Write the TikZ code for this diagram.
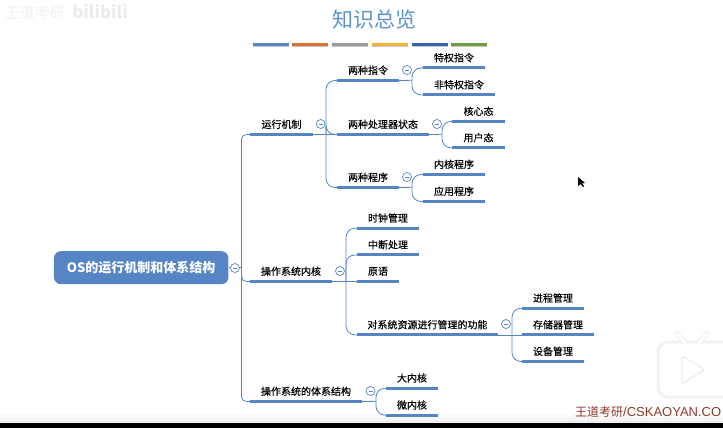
\documentclass[tikz,border=0pt]{standalone}
\usepackage{fontspec}
\setmainfont{Noto Sans CJK SC}
\newfontfamily\labelfont[FakeBold=0.35]{Noto Sans CJK SC}
\newfontfamily\latinfont{Liberation Sans}
\usepackage{color}
\definecolor{mapblue}{HTML}{5585C5}
\definecolor{titleblue}{HTML}{5B94CC}
\definecolor{barorange}{HTML}{DD7333}
\definecolor{bargray}{HTML}{9C9C9C}
\definecolor{baryellow}{HTML}{F2B233}
\definecolor{bardark}{HTML}{3563AE}
\definecolor{bargreen}{HTML}{6E9E3F}
\definecolor{markred}{HTML}{8E3A2A}
\tikzset{
  topic/.style={minimum height=20pt, yshift=1pt, inner sep=0pt, font=\labelfont\fontsize{10}{12}\selectfont,
    append after command={(\tikzlastnode.south west) edge[underline] (\tikzlastnode.south east)}},
  underline/.style={draw=mapblue, line width=3pt},
  conn/.style={draw=mapblue, line width=0.8pt, rounded corners=9pt},
  fold/.style={circle, draw=mapblue, line width=0.7pt, fill=white, minimum size=9pt, inner sep=0pt,
    path picture={\draw[mapblue, line width=0.7pt] ([xshift=-2pt]path picture bounding box.center) -- ([xshift=2pt]path picture bounding box.center);}},
  bar/.style={line width=3.2pt, line cap=butt},
}

\begin{document}
\begin{tikzpicture}[x=1pt,y=-1pt]
  \useasboundingbox (0,0) rectangle (723,428);

  \shade[top color=white, bottom color=black!7] (0,412) rectangle (723,423);
  \fill[black] (0,423) rectangle (723,428);

  % header
  \node[text=titleblue, font=\fontsize{21}{24}\selectfont] (title) at (374,20) {知识总览};
  \foreach \xa/\col in {253/mapblue, 292/barorange, 332/bargray, 372/baryellow, 411.5/bardark, 451/bargreen}{
    \draw[black!22, line width=1pt] (\xa,47) -- ++(36,0);
    \draw[bar, \col] (\xa,44.6) -- ++(36,0);
  }
  \node[text=black!6, font=\fontsize{15}{16}\selectfont] (mark) at (35,13) {王道考研};
  \node[text=black!8, font=\fontsize{17}{18}\selectfont\bfseries] (site) at (100,12) {bilibili};

  % root
  \node[fill=mapblue, rounded corners=7pt, text=white, minimum width=174.5pt, minimum height=33pt,
    inner sep=0pt, font=\fontsize{13}{14}\selectfont\bfseries] (root) at (141.2,267.7) {OS的运行机制和体系结构};

  % first level
  \node[topic, minimum width=63pt]  (yunxing) at (281.5,125.3) {运行机制};
  \node[topic, minimum width=82pt]  (neihe)   at (291,272.3)   {操作系统内核};
  \node[topic, minimum width=112pt] (jiegou)  at (306,392.3)   {操作系统的体系结构};

  % second level
  \node[topic, minimum width=62pt]  (zhiling) at (368,71.3)    {两种指令};
  \node[topic, minimum width=92pt]  (zhuangtai) at (383,125.3) {两种处理器状态};
  \node[topic, minimum width=62pt]  (chengxu) at (368,178.3)   {两种程序};
  \node[topic, minimum width=62pt]  (shizhong) at (388,219)    {时钟管理};
  \node[topic, minimum width=62pt]  (zhongduan) at (388,245.7) {中断处理};
  \node[topic, minimum width=42pt]  (yuanyu)  at (378,272.3)   {原语};
  \node[topic, minimum width=141pt] (ziyuan)  at (427.5,325.7) {对系统资源进行管理的功能};
  \node[topic, minimum width=52pt]  (danei)   at (412,379)     {大内核};
  \node[topic, minimum width=52pt]  (weinei)  at (412,406)     {微内核};

  % third level
  \node[topic, minimum width=62pt]  (tequan)  at (454,58.7)    {特权指令};
  \node[topic, minimum width=72pt]  (feite)   at (459,85.7)    {非特权指令};
  \node[topic, minimum width=53pt]  (hexin)   at (478.5,112.3) {核心态};
  \node[topic, minimum width=53pt]  (yonghu)  at (478.5,138.7) {用户态};
  \node[topic, minimum width=62pt]  (neiprog) at (454,165.3)   {内核程序};
  \node[topic, minimum width=62pt]  (yingyong) at (454,192.3)  {应用程序};
  \node[topic, minimum width=62pt]  (jincheng) at (553,299)    {进程管理};
  \node[topic, minimum width=72pt]  (cunchu)  at (558,325.7)   {存储器管理};
  \node[topic, minimum width=62pt]  (shebei)  at (553,352.3)   {设备管理};

  % junctions on the trunks
  \coordinate (jroot) at (241.5,267.7);
  \coordinate (jyun)  at (326,134.3);
  \coordinate (jzhi)  at (412,80.3);
  \coordinate (jzhu)  at (442,134.3);
  \coordinate (jchg)  at (412,187.3);
  \coordinate (jnei)  at (346,281.3);
  \coordinate (jzy)   at (512,334.7);
  \coordinate (jjg)   at (376,401.3);

  % connectors
  \draw[conn] (root.east) -- (jroot);
  \foreach \kid in {yunxing, neihe, jiegou}
    \draw[conn, rounded corners=5pt] (jroot) |- (\kid.south west);
  \foreach \kid in {zhiling, zhuangtai, chengxu}
    \draw[conn] (jyun) |- (\kid.south west);
  \draw[conn] (yunxing.south east) -- (zhuangtai.south west);
  \foreach \kid in {tequan, feite}
    \draw[conn] (jzhi) |- (\kid.south west);
  \draw[conn] (zhiling.south east) -- (jzhi);
  \foreach \kid in {hexin, yonghu}
    \draw[conn] (jzhu) |- (\kid.south west);
  \draw[conn] (zhuangtai.south east) -- (jzhu);
  \foreach \kid in {neiprog, yingyong}
    \draw[conn] (jchg) |- (\kid.south west);
  \draw[conn] (chengxu.south east) -- (jchg);
  \foreach \kid in {shizhong, zhongduan, ziyuan}
    \draw[conn] (jnei) |- (\kid.south west);
  \draw[conn] (neihe.south east) -- (yuanyu.south west);
  \foreach \kid in {jincheng, shebei}
    \draw[conn] (jzy) |- (\kid.south west);
  \draw[conn] (ziyuan.south east) -- (cunchu.south west);
  \foreach \kid in {danei, weinei}
    \draw[conn] (jjg) |- (\kid.south west);
  \draw[conn] (jiegou.south east) -- (jjg);

  % fold marks
  \foreach \nm/\xa/\ya in {froot/235/268, fyun/320.7/124, fzhi/407/70, fzhu/437/124, fchg/407/177,
      fnei/340/271, fzy/506/324, fjg/370.5/391}
    \node[fold] (\nm) at (\xa,\ya) {};

  % player overlays
  \draw[black!5, line width=5pt, line cap=round] (677,334) -- (685,343) (707,334) -- (699,343);
  \draw[black!5, line width=3pt, fill=white, rounded corners=10pt] (658,342) rectangle (735,397);
  \draw[white, line width=2.5pt, line cap=round] (677,334) -- (685,343) (707,334) -- (699,343);
  \draw[black!8, line width=1pt, fill=white, rounded corners=3pt] (682,356) -- (705,369.5) -- (682,384) -- cycle;
  \fill[black] (578,177) -- (578,186) -- (580.5,184) -- (583,187) -- (584,186) -- (582,183.5) -- (585,183) -- cycle;
  \node[text=markred, font=\fontsize{12}{14}\selectfont, anchor=west, inner sep=0pt] (wang) at (575,412) {王道考研{\latinfont\fontsize{13}{14}\selectfont /CSKAOYAN.CO}};
\end{tikzpicture}
\end{document}
